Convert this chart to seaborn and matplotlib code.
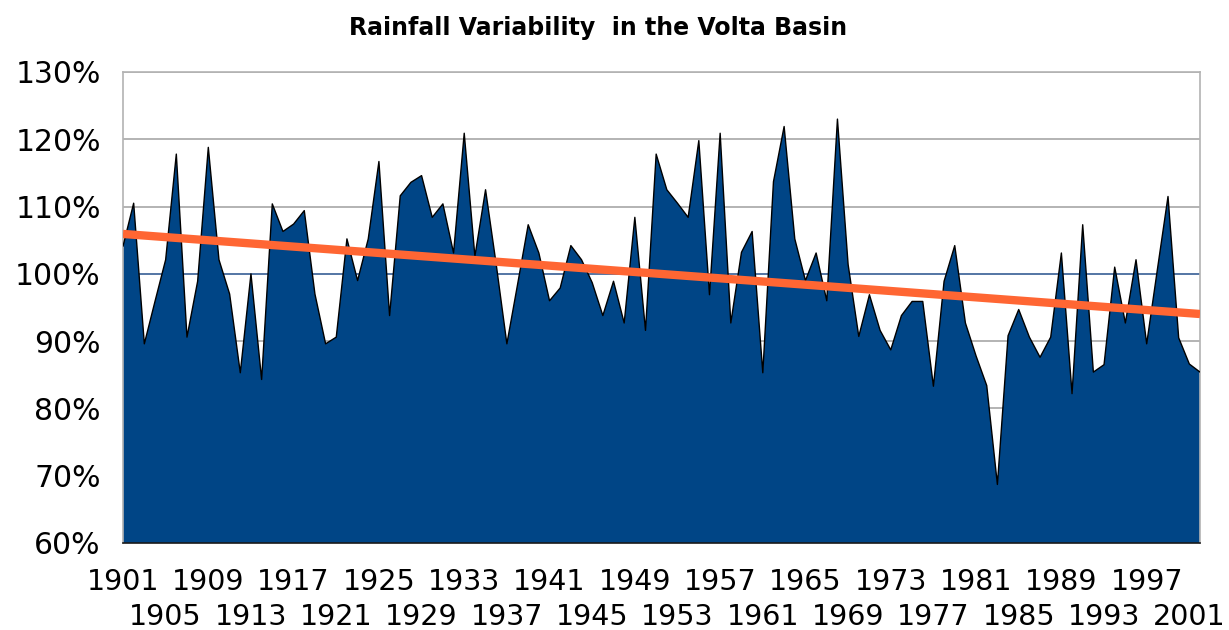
import numpy as np
import pandas as pd
import matplotlib
matplotlib.use("Agg")
import matplotlib.pyplot as plt
from matplotlib.ticker import FixedLocator, FixedFormatter, FuncFormatter
import seaborn as sns

# Annual rainfall in the Volta Basin as a percentage of the long-term mean
years = list(range(1901, 2003))
rainfall_pct = [
    104.1, 110.5, 89.6, 95.9, 102.1, 117.8, 90.6, 98.9, 118.8, 102.1,
    97.0, 85.3, 100.0, 84.3, 110.4, 106.3, 107.4, 109.4, 97.0, 89.6,
    90.6, 105.2, 99.0, 105.2, 116.7, 93.8, 111.6, 113.6, 114.6, 108.4,
    110.4, 103.1, 120.9, 102.6, 112.5, 101.4, 89.6, 98.4, 107.3, 103.1,
    96.0, 97.9, 104.2, 102.1, 98.7, 93.8, 98.9, 92.7, 108.4, 91.6,
    117.8, 112.5, 110.5, 108.4, 119.8, 96.9, 120.9, 92.7, 103.2, 106.3,
    85.3, 113.7, 121.9, 105.2, 99.0, 103.1, 96.0, 123.0, 101.4, 90.7,
    96.9, 91.6, 88.7, 93.8, 95.9, 95.9, 83.3, 98.9, 104.2, 92.7,
    87.8, 83.4, 68.7, 90.8, 94.7, 90.6, 87.6, 90.6, 103.1, 82.2,
    107.3, 85.4, 86.5, 101.0, 92.7, 102.1, 89.6, 100.6, 111.5, 90.5,
    86.6, 85.4,
]
reference_level = 100.0
y_ticks = [60, 70, 80, 90, 100, 110, 120, 130]
upper_row_years = list(range(1901, 2002, 8))   # 1901, 1909, ... 1997
lower_row_years = list(range(1905, 2002, 8))   # 1905, 1913, ... 2001

df = pd.DataFrame({"year": years, "rainfall": rainfall_pct})

sns.set_theme(style="white")
plt.rcParams["font.family"] = ["DejaVu Sans"]

fig = plt.figure(figsize=(12.29, 6.30), dpi=100)
ax = fig.add_axes([123 / 1229, 1 - 543 / 630, (1200 - 123) / 1229, (543 - 72) / 630])

grid_color = "#b3b3b3"
fill_color = "#004586"
trend_color = "#ff6633"

# horizontal gridlines
for t in y_ticks:
    ax.axhline(t, color=grid_color, lw=1.4, zorder=0)

# area series
ax.fill_between(df["year"], y_ticks[0], df["rainfall"], facecolor=fill_color,
                edgecolor="none", zorder=2)
sns.lineplot(data=df, x="year", y="rainfall", ax=ax, color="black", lw=1.0,
             zorder=3, legend=False)

# long-term mean level
ax.axhline(reference_level, color="#5577a6", lw=1.4, zorder=1)

# linear trend
sns.regplot(data=df, x="year", y="rainfall", ax=ax, scatter=False, ci=None,
            truncate=True, line_kws={"color": trend_color, "lw": 6.0,
                                     "solid_capstyle": "butt", "zorder": 4})

ax.set_xlim(years[0], years[-1])
ax.set_ylim(y_ticks[0], y_ticks[-1])
ax.set_xlabel("")
ax.set_ylabel("")

ax.set_yticks(y_ticks)
ax.set_yticklabels([f"{t}%" for t in y_ticks])

# staggered year labels: upper row on major ticks, lower row on minor ticks
ax.xaxis.set_major_locator(FixedLocator(upper_row_years))
ax.xaxis.set_major_formatter(FixedFormatter([str(y) for y in upper_row_years]))
ax.xaxis.set_minor_locator(FixedLocator(years))
ax.xaxis.set_minor_formatter(FuncFormatter(
    lambda v, pos: str(int(round(v))) if int(round(v)) in lower_row_years else ""))

ax.tick_params(axis="both", which="both", direction="out", length=6,
               width=1.0, color=grid_color, labelcolor="black")
ax.tick_params(axis="y", which="major", labelsize=21.5, pad=10)
ax.tick_params(axis="x", which="major", labelsize=20.5, pad=12)
ax.tick_params(axis="x", which="minor", labelsize=20.5, pad=37)

for side in ["top", "right", "left", "bottom"]:
    ax.spines[side].set_visible(True)
    ax.spines[side].set_color(grid_color)
    ax.spines[side].set_linewidth(1.2)
ax.spines["bottom"].set_color("#1a1a1a")

fig.text(0.487, 1 - 28 / 630, "Rainfall Variability  in the Volta Basin",
         ha="center", va="center", fontsize=17, fontweight="bold", color="black")

fig.savefig("out.png", dpi=100, facecolor="white")
